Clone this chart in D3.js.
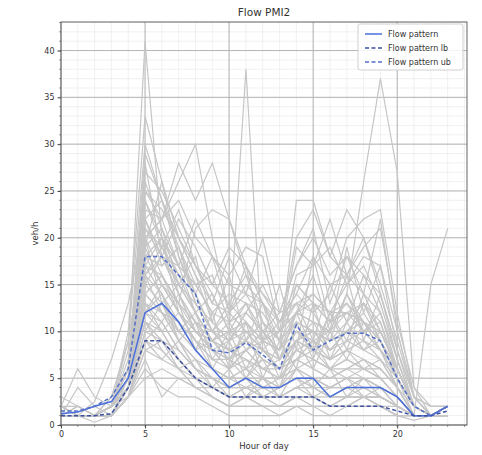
<!DOCTYPE html>
<html>
<head>
<meta charset="utf-8">
<script src="https://cdn.jsdelivr.net/npm/d3@7"></script>
<style>
  html, body { margin: 0; padding: 0; background: #fff; }
  svg { display: block; font-family: "DejaVu Sans", sans-serif; }
</style>
</head>
<body>
<svg id="chart" width="482" height="455"></svg>
<script>
// ---------- DATA ----------
const hours = d3.range(0, 24);
const xTicks = [0, 5, 10, 15, 20];
const yTicks = [0, 5, 10, 15, 20, 25, 30, 35, 40];

const flowPattern   = [1.2, 1.4, 2, 2.5, 5, 12, 13, 11, 8, 6, 4, 5, 4, 4, 5, 5, 3, 4, 4, 4, 3, 1, 1, 2];
const flowPatternLb = [1, 1, 1, 1.2, 4, 9, 9, 7, 5, 4, 3, 3, 3, 3, 3, 3, 2, 2, 2, 2, 1.5, 1, 1, 1.5];
const flowPatternUb = [1.5, 1.5, 2, 3, 6, 18, 18, 16, 14, 8, 7.7, 8.8, 7.5, 6, 10.7, 8, 9, 9.8, 9.8, 9, 5, 2, 1, 2];

const daily = [
  [1,1,1,2,8,41,20,12,9,6,5,4,4,5,6,5,4,4,5,4,3,1,1,2],
  [1,1,1,2,5,14,16,12,10,9,10,38,8,6,7,8,6,5,6,5,3,1,1,1],
  [1,2,1,2,6,18,15,12,9,8,7,8,9,10,12,11,10,14,26,37,27,4,1,2],
  [2,1,1,3,9,20,22,26,30,20,12,10,9,8,10,9,8,10,9,8,6,2,1,2],
  [1,1,1,2,7,25,22,28,24,28,22,17,13,11,15,13,12,12,11,9,5,2,1,1],
  [1,1,1,3,6,16,18,14,10,8,9,12,10,8,24,24,18,16,20,14,8,2,1,2],
  [2,1,1,2,5,12,11,8,6,5,4,5,4,4,5,5,4,5,4,3,2,1,15,21],
  [2,6,3,2,5,14,12,9,7,5,4,4,3,4,5,4,3,3,4,3,2,1,1,2],
  [1,4,2,1,4,11,10,7,5,4,3,3,3,3,4,3,2,3,3,2,2,1,1,1],
  [1,1,2.5,7,13,22,18,15,12,9,7,6,7,6,8,7,6,7,6,5,3,1,1,2],
  [1,1,1,2,10,33,26,18,14,10,8,9,11,7,9,10,8,9,10,8,5,2,1,1],
  [1,1,1,2,9,30,24,20,16,13,12,14,11,9,12,14,12,13,11,9,6,2,1,2],
  [2,1,1,2,6,27,25,21,17,15,19,17,14,12,17,20,16,18,16,14,8,3,2,2],
  [1,1,1,1,5,24,20,16,12,9,8,7,6,7,9,8,7,8,9,7,4,2,1,1],
  [1,1,1,2,4,19,26,20,16,11,9,10,8,7,10,9,10,12,10,8,5,1,1,2],
  [1,1,1,2,5,17,14,10,8,6,5,5,5,4,6,5,5,6,5,4,3,1,1,1],
  [1,1,1,1,4,15,13,9,6,5,3,4,3,3,4,4,3,4,3,3,2,1,1,1],
  [1,1,1,1,3,10,9,7,5,3,2,3,2,2,3,3,2,2,3,2,1,1,1,1],
  [1,1,1,1,3,8,9,6,4,3,2,2,2,2,2,2,2,2,2,2,1,1,1,1],
  [1,1,0.3,1,3,6,4,3,3,2,1,1,1,1,2,1,1,1,1,1,1,0.5,1,1],
  [1,1,1,1,4,13,12,11,9,7,6,8,6,5,7,6,5,6,7,6,4,1,1,2],
  [2,1,1,2,5,21,19,16,14,10,9,11,9,8,11,10,9,11,13,10,6,2,1,2],
  [1,1,1,2,6,23,22,24,20,18,15,14,13,10,13,14,12,15,17,13,7,2,1,1],
  [1,1,1,2,5,18,17,19,15,12,11,12,15,11,14,18,15,16,14,12,6,2,1,2],
  [1,1,1,2,5,26,21,17,22,18,16,19,18,10,20,23,18,23,20,15,9,3,1,2],
  [1,1,1,2,4,14,16,13,11,10,12,15,13,9,16,17,19,15,18,17,10,3,2,2],
  [1,2,1,2,5,20,13,10,8,9,10,9,7,6,9,8,7,9,8,9,5,2,1,2],
  [3,2,1,2,4,12,15,13,10,8,6,7,5,5,6,7,6,6,7,5,3,1,1,2],
  [1,1,1,2,6,16,12,9,7,6,5,6,5,4,7,6,5,6,6,5,3,1,1,1],
  [1,1,1,1,3,9,11,8,6,4,3,4,3,3,3,3,2,3,3,3,2,1,1,1],
  [1,1,1,2,4,11,8,6,4,4,3,3,4,3,4,4,3,3,3,3,2,1,1,2],
  [1,1,1,2,5,22,24,18,13,11,9,12,10,8,15,13,11,12,13,11,6,2,1,2],
  [1,1,1,1,4,13,10,7,5,4,4,5,3,3,4,5,4,4,4,4,3,1,1,1],
  [1,1,1,1,3,7,3,5,4,3,2,2,2,1,2,2,1,2,2,2,1,1,1,1],
  [1,1,1,2,5,15,18,22,19,15,13,16,14,11,13,12,14,20,22,23,12,3,1,2],
  [1,1,1,2,4,10,13,15,13,10,8,9,8,7,12,11,10,14,11,10,6,2,1,1],
  [1,1,1,2,5,17,20,17,15,12,14,13,12,9,19,17,22,16,19,21,11,4,2,2],
  [2,1,1,2,4,12,10,12,9,7,7,10,8,6,9,10,8,10,12,9,5,2,1,2],
  [1,1,1,2,5,28,18,14,11,8,6,8,6,5,8,9,7,8,7,6,4,1,1,2],
  [1,1,1,1,3,8,7,6,5,4,3,3,3,2,3,3,3,3,3,3,2,1,1,1],
  [1,1,1,2,6,19,15,12,10,9,8,7,6,6,8,7,6,7,6,6,4,1,1,2],
  [1,1,1,2,5,24,19,15,12,14,10,11,9,8,12,13,11,12,11,9,6,2,1,2],
  [1,1,1,1,4,16,14,11,8,6,5,6,4,4,5,4,4,5,5,4,3,1,1,1],
  [1,1,1,2,3,5,6,5,4,3,2,3,2,2,3,2,2,2,3,2,1,1,1,1],
  [1,1,1,2,5,20,16,13,21,23,22,16,11,9,11,10,9,10,11,8,6,2,1,2],
  [1,1,1,2,5,22,17,19,14,18,12,17,9,15,8,18,11,16,9,14,7,2,1,2],
  [1,1,1,2,6,19,21,15,18,11,16,9,13,7,12,16,10,19,12,17,8,3,1,2],
  [1,1,1,1,4,14,12,10,12,7,10,6,9,5,11,7,12,8,13,9,5,2,1,1],
  [1,1,1,2,5,17,16,13,8,12,6,11,5,9,6,13,7,11,8,10,6,2,1,2],
  [1,1,1,2,4,12,14,9,11,6,9,5,7,4,9,6,10,7,11,8,4,1,1,1],
  [1,1,1,2,5,25,23,20,17,13,18,14,20,12,17,21,13,18,14,22,10,3,1,2],
  [1,1,1,1,3,9,8,6,7,4,6,3,5,3,6,4,6,3,5,4,2,1,1,1],
  [1,1,1,2,5,21,18,17,15,16,11,13,10,12,13,9,15,11,16,12,7,2,1,2],
  [1,1,1,2,6,29,24,19,13,10,13,11,8,10,12,8,11,13,10,12,6,2,1,2],
  [1,1,1,1,4,11,9,8,6,5,4,5,3,4,5,3,4,5,3,4,2,1,1,1],
  [1,1,1,2,5,16,19,23,17,14,10,13,9,11,14,12,9,14,10,11,5,2,1,2],
  [1,1,1,2,4,13,11,14,10,8,7,5,8,6,7,9,6,8,6,7,4,1,1,1],
  [1,1,1,2,5,20,22,17,12,9,11,8,10,7,10,8,12,9,14,10,6,2,1,2],
  [2,2,1,2,4,9,7,9,6,5,4,4,5,3,4,5,3,4,5,3,2,1,1,1],
  [1,1,1,2,5,18,20,14,11,9,7,9,7,6,9,11,8,10,8,7,5,2,1,2]
];

const legendLabels = ["Flow pattern", "Flow pattern lb", "Flow pattern ub"];

// ---------- LAYOUT ----------
const svg = d3.select("#chart");
const mLeft = 61, mRight = 467, mTop = 22, mBottom = 425;

const x = d3.scaleLinear().domain([0, 24.15]).range([mLeft, mRight]);
const y = d3.scaleLinear().domain([0, 43.05]).range([mBottom, mTop]);

svg.append("rect").attr("width", 482).attr("height", 455).attr("fill", "#fff");

const g = svg.append("g");

// minor grid
const xMinor = d3.range(0, 25, 1);
const yMinor = d3.range(0, 44, 1);
g.append("g").selectAll("line").data(xMinor).join("line")
  .attr("x1", d => x(d)).attr("x2", d => x(d))
  .attr("y1", mTop).attr("y2", mBottom)
  .attr("stroke", "#e8e8e8").attr("stroke-width", 0.6);
g.append("g").selectAll("line").data(yMinor).join("line")
  .attr("y1", d => y(d)).attr("y2", d => y(d))
  .attr("x1", mLeft).attr("x2", mRight)
  .attr("stroke", "#e8e8e8").attr("stroke-width", 0.6);

// major grid
g.append("g").selectAll("line").data(xTicks).join("line")
  .attr("x1", d => x(d)).attr("x2", d => x(d))
  .attr("y1", mTop).attr("y2", mBottom)
  .attr("stroke", "#b4b4b4").attr("stroke-width", 1);
g.append("g").selectAll("line").data(yTicks).join("line")
  .attr("y1", d => y(d)).attr("y2", d => y(d))
  .attr("x1", mLeft).attr("x2", mRight)
  .attr("stroke", "#b4b4b4").attr("stroke-width", 1);

// clip
svg.append("clipPath").attr("id", "clip")
  .append("rect").attr("x", mLeft).attr("y", mTop)
  .attr("width", mRight - mLeft).attr("height", mBottom - mTop);

const line = d3.line().x((d, i) => x(hours[i])).y(d => y(d));

const plot = svg.append("g").attr("clip-path", "url(#clip)");
plot.selectAll("path.day").data(daily).join("path")
  .attr("class", "day")
  .attr("d", line)
  .attr("fill", "none")
  .attr("stroke", "#c6c6c6")
  .attr("stroke-width", 1.2);

const patterns = [
  { data: flowPattern, color: "#4a6fdc", dash: null },
  { data: flowPatternLb, color: "#3d51a3", dash: "4,2.5" },
  { data: flowPatternUb, color: "#5470c8", dash: "4,2.5" }
];
plot.selectAll("path.pat").data(patterns).join("path")
  .attr("class", "pat")
  .attr("d", d => line(d.data))
  .attr("fill", "none")
  .attr("stroke", d => d.color)
  .attr("stroke-width", 1.5)
  .attr("stroke-dasharray", d => d.dash);

// axes
const xAxis = d3.axisBottom(x).tickValues(xTicks).tickSize(3.5).tickPadding(3);
const yAxis = d3.axisLeft(y).tickValues(yTicks).tickSize(3.5).tickPadding(3);

const gx = svg.append("g").attr("transform", `translate(0,${mBottom})`).call(xAxis);
const gy = svg.append("g").attr("transform", `translate(${mLeft},0)`).call(yAxis);
[gx, gy].forEach(a => {
  a.select(".domain").remove();
  a.selectAll("line").attr("stroke", "#444");
  a.selectAll("text").attr("fill", "#333").style("font-size", "8px")
    .style("font-family", "DejaVu Sans, sans-serif");
});

// minor ticks
svg.append("g").selectAll("line").data(xMinor.filter(d => d <= 24)).join("line")
  .attr("x1", d => x(d)).attr("x2", d => x(d))
  .attr("y1", mBottom).attr("y2", mBottom + 2)
  .attr("stroke", "#555").attr("stroke-width", 0.6);
svg.append("g").selectAll("line").data(yMinor).join("line")
  .attr("y1", d => y(d)).attr("y2", d => y(d))
  .attr("x1", mLeft).attr("x2", mLeft - 2)
  .attr("stroke", "#555").attr("stroke-width", 0.6);

// frame
svg.append("rect").attr("x", mLeft).attr("y", mTop)
  .attr("width", mRight - mLeft).attr("height", mBottom - mTop)
  .attr("fill", "none").attr("stroke", "#555").attr("stroke-width", 0.9);

// labels
svg.append("text").attr("x", (mLeft + mRight) / 2).attr("y", 16)
  .attr("text-anchor", "middle").style("font-size", "10.5px").attr("fill", "#333")
  .text("Flow PMI2");
svg.append("text").attr("x", (mLeft + mRight) / 2).attr("y", 449)
  .attr("text-anchor", "middle").style("font-size", "8.5px").attr("fill", "#333")
  .text("Hour of day");
svg.append("text").attr("transform", `translate(38,${(mTop + mBottom) / 2 + 10}) rotate(-90)`)
  .attr("text-anchor", "middle").style("font-size", "8.5px").attr("fill", "#333")
  .text("veh/h");

// legend
const lg = svg.append("g");
lg.append("rect").attr("x", 358).attr("y", 24).attr("width", 105).attr("height", 46)
  .attr("rx", 2).attr("fill", "rgba(255,255,255,0.85)").attr("stroke", "#d0d0d0");
legendLabels.forEach((lab, i) => {
  const yy = 34 + i * 14;
  lg.append("line").attr("x1", 365).attr("x2", 382).attr("y1", yy).attr("y2", yy)
    .attr("stroke", patterns[i].color).attr("stroke-width", 1.5)
    .attr("stroke-dasharray", patterns[i].dash);
  lg.append("text").attr("x", 388).attr("y", yy + 3)
    .style("font-size", "8px").attr("fill", "#333").text(lab);
});
</script>
</body>
</html>
